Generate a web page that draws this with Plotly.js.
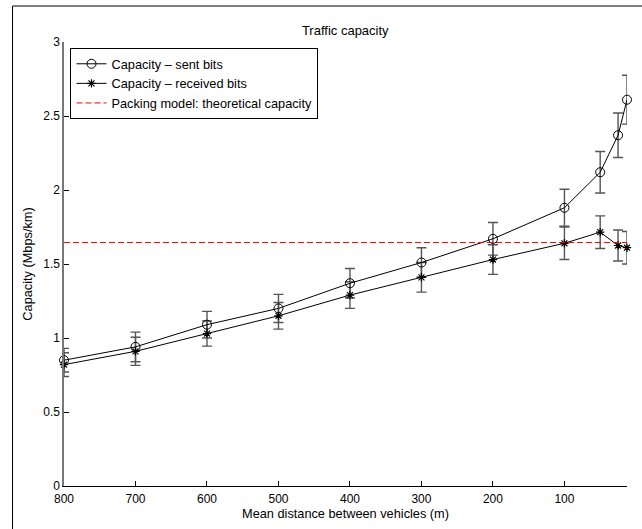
<!DOCTYPE html>
<html>
<head>
<meta charset="utf-8">
<script src="https://cdn.plot.ly/plotly-3.0.1.min.js"></script>
<style>
  html, body { margin: 0; padding: 0; background: #fff; }
  #chart { width: 642px; height: 529px; }
</style>
</head>
<body>
<div id="chart"></div>
<script>
// Mean distance between vehicles (m)
const distances = [800, 700, 600, 500, 400, 300, 200, 100, 50, 25, 12.5];

// Capacity from sent bits (Mbps/km) and its error half-widths
const sentCapacity = [0.85, 0.94, 1.09, 1.20, 1.37, 1.51, 1.67, 1.88, 2.12, 2.37, 2.61];
const sentError    = [0.08, 0.10, 0.09, 0.095, 0.10, 0.10, 0.11, 0.125, 0.14, 0.15, 0.165];

// Capacity from received bits (Mbps/km) and its error half-widths
const receivedCapacity = [0.82, 0.91, 1.03, 1.15, 1.29, 1.41, 1.53, 1.64, 1.715, 1.625, 1.61];
const receivedError    = [0.08, 0.095, 0.085, 0.09, 0.09, 0.10, 0.10, 0.11, 0.11, 0.105, 0.11];

// Packing model: theoretical capacity (Mbps/km)
const theoreticalCapacity = 1.645;

const xTicks = [800, 700, 600, 500, 400, 300, 200, 100];
const yTicks = [0, 0.5, 1, 1.5, 2, 2.5, 3];
const xRange = [800, 12.5];

const FONT = 'Liberation Sans, Arial, Helvetica, sans-serif';
const barColor = '#555555';

// Error bars are clipped to the axes; markers are allowed to overhang them.
function errorTrace(y, err) {
  return {
    x: distances, y: y, type: 'scatter', mode: 'markers',
    marker: { size: 1, opacity: 0 },
    error_y: { type: 'data', array: err, visible: true,
               color: barColor, thickness: 1.4, width: 5 },
    showlegend: false, hoverinfo: 'skip', cliponaxis: true
  };
}

const traces = [
  errorTrace(sentCapacity, sentError),
  errorTrace(receivedCapacity, receivedError),
  {
    x: distances, y: sentCapacity, type: 'scatter', mode: 'lines+markers',
    name: 'Capacity \u2013 sent bits',
    line: { color: '#000', width: 1 },
    marker: { symbol: 'circle-open', size: 9, color: '#000', line: { width: 1, color: '#000' } },
    cliponaxis: false
  },
  {
    x: distances, y: receivedCapacity, type: 'scatter', mode: 'lines+markers',
    name: 'Capacity \u2013 received bits',
    line: { color: '#000', width: 1 },
    marker: { symbol: 'asterisk-open', size: 7, color: '#000', line: { width: 1.2, color: '#000' } },
    cliponaxis: false
  },
  {
    x: xRange, y: xRange.map(() => theoreticalCapacity),
    type: 'scatter', mode: 'lines',
    name: 'Packing model: theoretical capacity',
    line: { color: '#ff0000', width: 1, dash: '6px,3px' },
    cliponaxis: false
  }
];

// Plot-area edges in pixels
const L = 63.5, R = 627, T = 42, B = 486, W = 642, H = 529;
const pw = R - L, ph = B - T;
const px = v => (v - L) / pw;
const py = v => (B - v) / ph;

const layout = {
  width: W, height: H,
  margin: { l: L, r: W - R, t: T, b: H - B, pad: 0 },
  paper_bgcolor: '#fff', plot_bgcolor: '#fff',
  font: { family: FONT, size: 12.5, color: '#000' },
  title: { text: 'Traffic capacity', font: { family: FONT, size: 13, color: '#000' },
           x: px(345), xref: 'paper', xanchor: 'center',
           y: 1 - 30 / H, yref: 'container', yanchor: 'middle' },
  xaxis: {
    range: xRange, tickvals: xTicks, ticktext: xTicks.map(String),
    showline: true, linecolor: '#000', linewidth: 1, mirror: false,
    ticks: 'inside', ticklen: 5, tickcolor: '#000', tickwidth: 1,
    ticklabelstandoff: 2,
    showgrid: false, zeroline: false,
    tickfont: { family: FONT, size: 12, color: '#000' },
    title: { text: 'Mean distance between vehicles (m)', standoff: 2,
             font: { family: FONT, size: 12.75, color: '#000' } }
  },
  yaxis: {
    range: [0, 3], tickvals: yTicks, ticktext: yTicks.map(String),
    showline: true, linecolor: '#777', linewidth: 1.6, mirror: false,
    ticks: 'inside', ticklen: 5, tickcolor: '#000', tickwidth: 1,
    showgrid: false, zeroline: false,
    tickfont: { family: FONT, size: 12, color: '#000' },
    title: { text: 'Capacity (Mbps/km)', standoff: 8,
             font: { family: FONT, size: 12.75, color: '#000' } }
  },
  legend: {
    x: px(70), y: py(48), xanchor: 'left', yanchor: 'top',
    bgcolor: '#fff', bordercolor: '#000', borderwidth: 1,
    font: { family: FONT, size: 12.75, color: '#000' },
    traceorder: 'normal', tracegroupgap: 0, itemwidth: 30
  },
  shapes: [{
    type: 'rect', xref: 'paper', yref: 'paper',
    x0: px(12), x1: px(660), y0: py(545), y1: py(6),
    line: { color: '#000', width: 1 }, fillcolor: 'rgba(0,0,0,0)', layer: 'below'
  }]
};

Plotly.newPlot('chart', traces, layout, { displayModeBar: false, staticPlot: true });
</script>
</body>
</html>
